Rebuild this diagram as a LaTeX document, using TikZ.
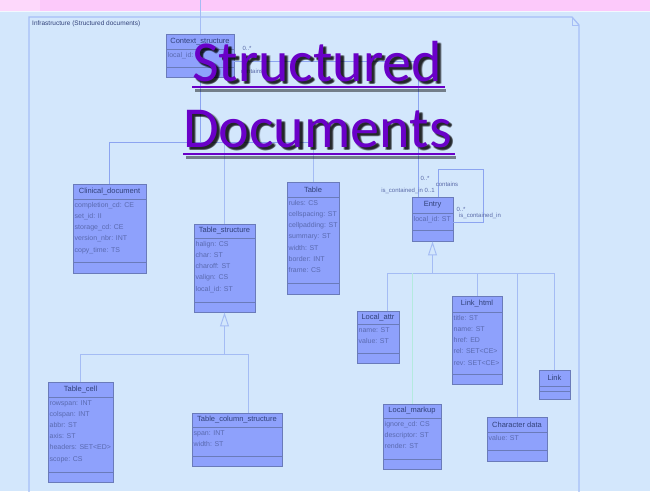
\documentclass[tikz,border=0pt]{standalone}
\usepackage{fontspec}
\setmainfont{Liberation Sans}
\newfontfamily\headfont{Carlito}
\usetikzlibrary{arrows.meta,fit,calc}

\definecolor{bgblue}{HTML}{D3E7FC}
\definecolor{pinkband}{HTML}{FCC9FA}
\definecolor{pinkleft}{HTML}{FDD8FB}
\definecolor{framecol}{HTML}{A6BEF6}
\definecolor{boxfill}{HTML}{8EA1FC}
\definecolor{boxline}{HTML}{6A7BBA}
\definecolor{titletext}{HTML}{32427A}
\definecolor{attrtext}{HTML}{5A6AB0}
\definecolor{treeblue}{HTML}{8CA4F0}
\definecolor{subblue}{HTML}{A4BCF4}
\definecolor{tealwirecol}{HTML}{B4EADF}
\definecolor{headpurple}{HTML}{6A00C8}
\definecolor{labeltext}{HTML}{5A6AA8}

\tikzset{
  classbox/.style={draw=boxline, fill=boxfill, line width=0.9pt, inner sep=0pt},
  sepline/.style={draw=boxline, line width=0.8pt},
  classtitle/.style={font=\fontsize{7.5}{8}\selectfont, text=titletext, inner sep=0pt},
  classattr/.style={anchor=north west, align=left, font=\fontsize{7}{11.2}\selectfont,
                    text=attrtext, inner sep=0pt},
  treewire/.style={draw=treeblue, line width=0.8pt},
  subwire/.style={draw=subblue, line width=1pt},
  tealwire/.style={draw=tealwirecol, line width=1pt},
  genarrow/.style={-{Triangle[open,length=14pt,width=9pt]}},
  rolelabel/.style={font=\fontsize{6}{7}\selectfont, text=labeltext, inner sep=0pt},
  headtext/.style={font=\headfont\fontsize{58}{60}\selectfont, inner sep=0pt, anchor=base west},
}

% UML class: name, left, top, right, bottom, title separator, attribute separator, title, attributes
\newcommand\umlclass[9]{%
  \node[classbox, fit={(#2,#3) (#4,#5)}] (#1) {};
  \draw[sepline] (#2,#6) -- (#4,#6);
  \draw[sepline] (#2,#7) -- (#4,#7);
  \node[classtitle] (#1-title) at ({(#2+#4)/2},{(#3+#6)/2}) {#8};
  \node[classattr] (#1-attrs) at (#2+1.5,#6+3) {#9};
}

% heading word with soft drop shadow
\newcommand\headword[4]{% name, x, baseline y, text
  \foreach \dx/\dy [count=\k] in {2.5/2.5, 3.5/3.5, 3/2.2, 2.2/3, 3.8/2.8, 3/3} {
    \node[headtext, text=black, opacity=0.25] (#1-shadow\k) at (#2+\dx,#3+\dy) {#4};
  }
  \node[headtext, text=headpurple] (#1) at (#2,#3) {#4};
}

\begin{document}
\begin{tikzpicture}[x=1pt,y=-1pt]
  \useasboundingbox (0,0) rectangle (650,491);
  % page background and top band
  \fill[bgblue] (0,0) rectangle (650,491);
  \fill[pinkband] (0,0) rectangle (650,11);
  \fill[pinkleft] (0,0) rectangle (40,11);
  \draw[white!70!bgblue, line width=0.8pt] (0,11.5) -- (650,11.5);

  % package frame with folded corner
  \draw[framecol, line width=1.3pt] (29,495) -- (29,17) -- (572,17) -- (579,25) -- (579,495);
  \draw[framecol, line width=0.6pt] (572,17) -- (572,25) -- (579,25);
  \node[anchor=west, font=\fontsize{6.5}{7}\selectfont, text=titletext, inner sep=0pt]
    (pkglabel) at (32,24) {Infrastructure (Structured documents)};

  % wire entering from above
  \coordinate (topedge) at (200,0);

  % classes
  \umlclass{ctx}{166}{34}{234}{77}{49}{67}{Context\_structure}{local\_id: ST}
  \umlclass{clin}{73}{184}{146}{273}{199}{262}{Clinical\_document}%
    {completion\_cd: CE\\ set\_id: II\\ storage\_cd: CE\\ version\_nbr: INT\\ copy\_time: TS}
  \umlclass{tstruct}{194}{224}{255}{312}{238}{302}{Table\_structure}%
    {halign: CS\\ char: ST\\ charoff: ST\\ valign: CS\\ local\_id: ST}
  \umlclass{table}{287}{182}{339}{294}{197}{283}{Table}%
    {rules: CS\\ cellspacing: ST\\ cellpadding: ST\\ summary: ST\\ width: ST\\ border: INT\\ frame: CS}
  \umlclass{entry}{412}{197}{453}{241}{213}{230}{Entry}{local\_id: ST}
  \umlclass{cell}{48}{382}{113}{482}{397}{472}{Table\_cell}%
    {rowspan: INT\\ colspan: INT\\ abbr: ST\\ axis: ST\\ headers: SET<ED>\\ scope: CS}
  \umlclass{tcol}{192}{413}{282}{466}{427}{456}{Table\_column\_structure}{span: INT\\ width: ST}
  \umlclass{lattr}{357}{311}{399}{363}{324}{353}{Local\_attr}{name: ST\\ value: ST}
  \umlclass{lhtml}{452}{296}{502}{384}{312}{374}{Link\_html}%
    {title: ST\\ name: ST\\ href: ED\\ rel: SET<CE>\\ rev: SET<CE>}
  \umlclass{link}{539}{370}{570}{399}{386}{391}{Link}{}
  \umlclass{lmark}{383}{404}{441}{469}{418}{459}{Local\_markup}%
    {ignore\_cd: CS\\ descriptor: ST\\ render: ST}
  \umlclass{chdata}{487}{417}{547}{461}{432}{450}{Character data}{value: ST}

  % incoming wire at the top
  \draw[subwire] (ctx.north) -- (ctx.north |- topedge);

  % composition tree under Context_structure
  \coordinate (bus1) at (0,142);
  \draw[treewire] (ctx.south) -- (ctx.south |- bus1);
  \draw[treewire] (clin.north |- bus1) -- (table.north |- bus1);
  \draw[treewire] (clin.north |- bus1) -- (clin.north);
  \draw[subwire] (tstruct.north |- bus1) -- (tstruct.north);
  \draw[subwire] (table.north |- bus1) -- (table.north);

  % Context_structure -- Entry association
  \draw[treewire] ([yshift=-6pt]ctx.east) -| ([xshift=-14.5pt]entry.north);
  \node[rolelabel] (r1) at (247,48) {0..*};
  \node[rolelabel] (r2) at (252,71) {contains};

  % Entry self association
  \draw[treewire] ([xshift=5.5pt]entry.north) -- ++(0,-27) -- ++(45,0) |- ([yshift=-3pt]entry.east);
  \node[rolelabel] (r3) at (425,178) {0..*};
  \node[rolelabel] (r4) at (447,184) {contains};
  \node[rolelabel] (r5) at (408,191) {is\_contained\_in 0..1};
  \node[rolelabel] (r6) at (461,209) {0..*};
  \node[rolelabel] (r7) at (480,216) {is\_contained\_in};

  % Entry specialisations
  \coordinate (bus2) at (0,273);
  \draw[subwire, genarrow] (entry.south |- bus2) -- (entry.south);
  \draw[subwire] ([xshift=9pt]lattr.north |- bus2) -- (link.north |- bus2);
  \draw[subwire] ([xshift=9pt]lattr.north |- bus2) -- ([xshift=9pt]lattr.north);
  \draw[tealwire] (lmark.north |- bus2) -- (lmark.north);
  \draw[subwire] (lhtml.north |- bus2) -- (lhtml.north);
  \draw[subwire] (chdata.north |- bus2) -- (chdata.north);
  \draw[subwire] (link.north |- bus2) -- (link.north);

  % Table_structure specialisations
  \coordinate (bus3) at (0,354);
  \draw[subwire, genarrow] (tstruct.south |- bus3) -- (tstruct.south);
  \draw[subwire] (cell.north |- bus3) -- ([xshift=11pt]tcol.north |- bus3);
  \draw[subwire] (cell.north |- bus3) -- (cell.north);
  \draw[subwire] ([xshift=11pt]tcol.north |- bus3) -- ([xshift=11pt]tcol.north);

  % heading over the diagram, underlined
  \headword{headA}{192}{81}{Structured}
  \headword{headB}{183}{147}{Documents}
  \foreach \h/\d in {headA/6, headB/7} {
    \draw[black, opacity=0.45, line width=3pt] ([xshift=3pt,yshift=-\d pt-3pt]\h.base west) -- ([xshift=4pt,yshift=-\d pt-3pt]\h.base east);
    \draw[headpurple, line width=2.8pt] ([xshift=0pt,yshift=-\d pt]\h.base west) -- ([xshift=3pt,yshift=-\d pt]\h.base east);
  }
\end{tikzpicture}
\end{document}
